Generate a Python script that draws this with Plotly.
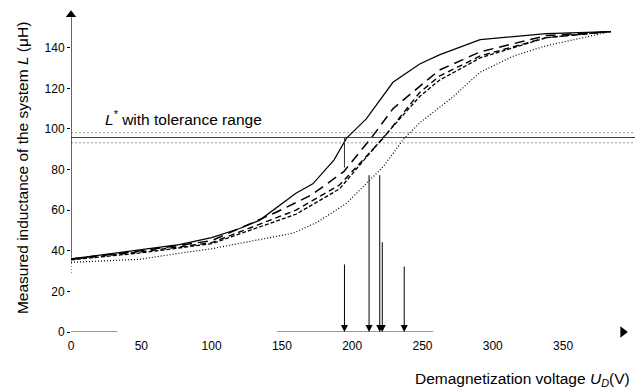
import plotly.graph_objects as go

# ---- data ----
x_solid = [0, 50, 77, 100, 120, 134, 149, 160, 172, 187, 196, 210, 229, 248, 262, 291, 338, 384]
y_solid = [36, 40.4, 43, 46.5, 51, 55, 62.6, 68.3, 73, 84.7, 95.5, 105, 123, 132, 136.5, 144, 147, 148]

x_long = [0, 50, 100, 146, 171, 194, 214, 229, 248, 262, 291, 338, 384]
y_long = [36, 40, 45, 59, 67.5, 79, 96, 110, 121, 129, 138, 146, 148]

x_med = [0, 50, 100, 160, 191, 222, 248, 262, 291, 338, 384]
y_med = [35.8, 39.5, 44, 60, 72.4, 95.4, 118, 126, 136, 145, 148]

x_short = [0, 50, 100, 160, 191, 221, 248, 262, 291, 338, 384]
y_short = [35.5, 39, 43.5, 58, 70.5, 95, 116, 124, 135, 145, 148]

x_dot = [0, 49, 77, 100, 158, 175, 196, 222, 237, 248, 272, 291, 315, 338, 384]
y_dot = [34.3, 35.8, 38.8, 41, 48.7, 54, 63.4, 81.4, 95.4, 103, 116, 128, 136, 141, 148]

L_star = 95.8
L_upper = 98.2
L_lower = 93.2

arrow_x = [194.5, 212, 219.6, 221.4, 237]
arrow_top = [34, 78, 78, 45, 33]

x_ticks = [0, 50, 100, 150, 200, 250, 300, 350]
y_ticks = [0, 20, 40, 60, 80, 100, 120, 140]

X_MAX = 404.7
Y_MAX = 159.6
FONT = "Liberation Sans, Arial, Helvetica, sans-serif"

fig = go.Figure()

# tolerance range
fig.add_trace(go.Scatter(x=[0, X_MAX], y=[L_upper, L_upper], mode="lines",
                         line=dict(color="#9a9a9a", width=1, dash="2px,2px"), hoverinfo="skip", showlegend=False))
fig.add_trace(go.Scatter(x=[0, X_MAX], y=[L_lower, L_lower], mode="lines",
                         line=dict(color="#9a9a9a", width=1, dash="2px,2px"), hoverinfo="skip", showlegend=False))
fig.add_trace(go.Scatter(x=[0, X_MAX], y=[L_star, L_star], mode="lines",
                         line=dict(color="#444444", width=1.2), hoverinfo="skip", showlegend=False))

# curves
fig.add_trace(go.Scatter(x=x_dot, y=y_dot, mode="lines", line=dict(color="black", width=1.2, dash="1px,2px"), showlegend=False))
fig.add_trace(go.Scatter(x=x_short, y=y_short, mode="lines", line=dict(color="black", width=1.3, dash="4px,2px"), showlegend=False))
fig.add_trace(go.Scatter(x=x_med, y=y_med, mode="lines", line=dict(color="black", width=1.4, dash="6px,4px"), showlegend=False))
fig.add_trace(go.Scatter(x=x_long, y=y_long, mode="lines", line=dict(color="black", width=1.5, dash="10px,6px"), showlegend=False))
fig.add_trace(go.Scatter(x=x_solid, y=y_solid, mode="lines", line=dict(color="black", width=1.2), showlegend=False))

# y axis line with arrow, x axis segments with arrow
fig.add_trace(go.Scatter(x=[0, 0], y=[29, 37], mode="lines", line=dict(color="black", width=1, dash="1px,2px"),
                         hoverinfo="skip", showlegend=False, cliponaxis=False))
fig.add_trace(go.Scatter(x=[0, 0], y=[37, 155], mode="lines", line=dict(color="black", width=1.2),
                         hoverinfo="skip", showlegend=False, cliponaxis=False))
fig.add_trace(go.Scatter(x=[0], y=[156.3], mode="markers", marker=dict(symbol="triangle-up", size=9, color="black"),
                         hoverinfo="skip", showlegend=False, cliponaxis=False))
for seg in ([0, 33], [146.5, 257.5]):
    fig.add_trace(go.Scatter(x=seg, y=[0, 0], mode="lines", line=dict(color="#333333", width=1),
                             hoverinfo="skip", showlegend=False, cliponaxis=False))
fig.add_trace(go.Scatter(x=[392.5], y=[0], mode="markers", marker=dict(symbol="triangle-right", size=10, color="black"),
                         hoverinfo="skip", showlegend=False, cliponaxis=False))

# vertical drop from solid-curve crossing
fig.add_trace(go.Scatter(x=[arrow_x[0], arrow_x[0]], y=[L_star, 81], mode="lines", line=dict(color="#333333", width=1),
                         hoverinfo="skip", showlegend=False))

annotations = []
for ax_, top in zip(arrow_x, arrow_top):
    annotations.append(dict(x=ax_, y=0, ax=ax_, ay=top, xref="x", yref="y", axref="x", ayref="y",
                            showarrow=True, arrowhead=2, arrowsize=1.4, arrowwidth=1, arrowcolor="black", text=""))

annotations.append(dict(x=22.8, y=105.4, xref="x", yref="y", xanchor="left", yanchor="middle", showarrow=False,
                        text="<i>L</i><sup>*</sup> with tolerance range", font=dict(family=FONT, size=15.5, color="black")))
annotations.append(dict(x=0.986, y=-0.148, xref="paper", yref="paper", xanchor="right", yanchor="middle", showarrow=False,
                        text="Demagnetization voltage <i>U</i><sub><i>D</i></sub>(V)", font=dict(family=FONT, size=15.5, color="black")))
annotations.append(dict(x=-0.0861, y=0.506, xref="paper", yref="paper", xanchor="center", yanchor="middle", showarrow=False,
                        textangle=-90, text="Measured inductance of the system <i>L</i> (μH)",
                        font=dict(family=FONT, size=15.5, color="black")))

fig.update_layout(
    width=635, height=384,
    margin=dict(l=63, r=3, t=0, b=60),
    paper_bgcolor="white", plot_bgcolor="white",
    font=dict(family=FONT, size=12, color="black"),
    annotations=annotations,
    xaxis=dict(range=[0, X_MAX], tickvals=x_ticks, ticktext=[str(v) for v in x_ticks], showgrid=False,
               zeroline=False, showline=False, ticks="", tickfont=dict(size=12), ticklabelstandoff=5),
    yaxis=dict(range=[0, Y_MAX], tickvals=y_ticks, ticktext=[str(v) for v in y_ticks], showgrid=False,
               zeroline=False, showline=False, ticks="outside", ticklen=3, tickcolor="black", tickfont=dict(size=12)),
)

fig.write_html("out.html")
